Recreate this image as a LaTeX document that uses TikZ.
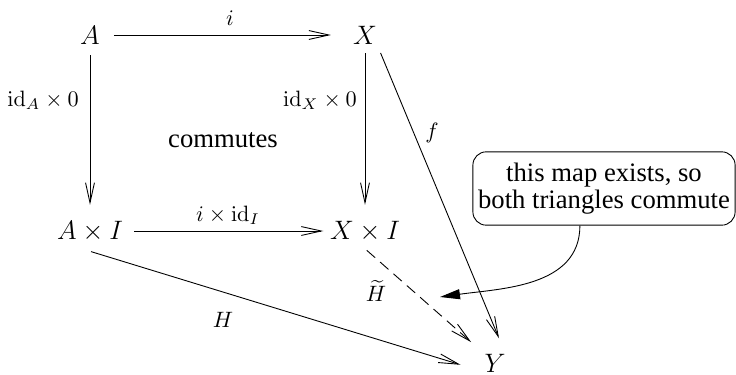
\documentclass[tikz,border=0pt,12pt]{standalone}
\usepackage[no-math]{fontspec}
\setmainfont{Liberation Serif}
\usetikzlibrary{arrows.meta}

\begin{document}
\begin{tikzpicture}[x=0.45pt,y=-0.45pt,
        obj/.style={inner sep=0pt,outer sep=0pt},
        lbl/.style={inner sep=0pt,font=\footnotesize},
        map/.style={line width=0.4pt,-{Straight Barb[length=9pt,width=4pt]}},
        note/.style={rectangle,rounded corners=6pt,draw,line width=0.4pt,
                     minimum width=118pt,minimum height=33pt,inner sep=0pt,
                     align=center,font=\fontsize{12}{10.8}\selectfont}]
    \useasboundingbox (0,0) rectangle (736,374);

    \node[obj] (A)  at (90,35)   {$A$};
    \node[obj] (X)  at (365,35)  {$X$};
    \node[obj] (AI) at (90,231)  {$A\times I$};
    \node[obj] (XI) at (365,231) {$X\times I$};
    \node[obj] (Y)  at (495,363) {$Y$};
    \node[obj] (comm) at (223,140) {commutes};

    \node[lbl] (li)    at (230,18)  {$i$};
    \node[lbl] (lidA)  at (43,100)  {$\mathrm{id}_A\times 0$};
    \node[lbl] (lidX)  at (320,100) {$\mathrm{id}_X\times 0$};
    \node[lbl] (lixid) at (228,215) {$i\times\mathrm{id}_I$};
    \node[lbl] (lf)    at (432,133) {$f$};
    \node[lbl] (lH)    at (223,320) {$H$};
    \node[lbl] (lHt)   at (376,291) {$\widetilde{H}$};

    \node[note] (note) at (604,188.5)
      {this map exists, so\\both triangles commute};
    \coordinate (tip) at (440,297);

    \draw[map,shorten <=6.3pt,shorten >=10pt] (A) -- (X);
    \draw[map,shorten <=5pt,shorten >=7.2pt] (A) -- (AI);
    \draw[map,shorten <=4pt,shorten >=7.2pt] (X) -- (XI);
    \draw[map,shorten <=5pt,shorten >=3pt] (AI) -- (XI);
    \draw[map,shorten <=4.3pt,shorten >=7.6pt] (X.south east) -- (Y.north east);
    \draw[map,dash pattern=on 5pt off 3pt,shorten <=6.2pt,shorten >=8pt]
      (XI.-130) -- (Y.north west);
    \draw[map,shorten <=16pt,shorten >=11.3pt] (AI.south west) -- (Y.south west);
    \draw[line width=0.4pt,-{Triangle[length=9pt,width=4.5pt]}]
      (note.237) to[out=-90,in=8] (tip);
\end{tikzpicture}
\end{document}
